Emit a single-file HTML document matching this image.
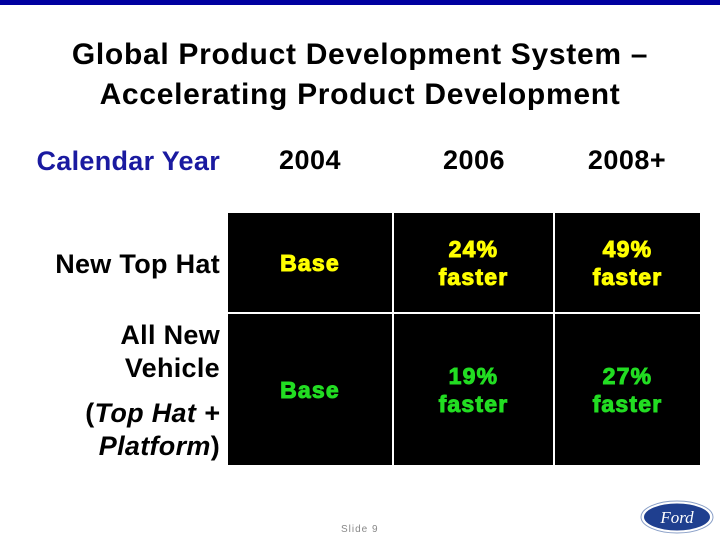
<!DOCTYPE html>
<html><head><meta charset="utf-8"><style>
body{margin:0;width:720px;height:540px;background:#fff;position:relative;overflow:hidden;font-family:"Liberation Sans",sans-serif}
.a{position:absolute}
.t{left:0;width:720px;text-align:center;font-weight:bold;font-size:30px;color:#000;line-height:40px;letter-spacing:0.7px}
.lbl{font-size:27px;font-weight:bold;color:#000;text-align:right;right:500px;line-height:33px;letter-spacing:0.3px}
.yr{font-size:27px;font-weight:bold;color:#000;width:160px;text-align:center;top:145px;letter-spacing:0.5px}
.cell{background:#000;display:flex;align-items:center;justify-content:center;text-align:center;font-weight:bold;font-size:23px;line-height:28px;letter-spacing:1.2px;-webkit-text-stroke:1px currentColor}
.y{color:#ffff00}.g{color:#22dd22}
</style></head><body>
<div class="a" style="left:0;top:0;width:720px;height:5px;background:#0000a0"></div>
<div class="a t" style="top:35px">Global Product Development System –</div>
<div class="a t" style="top:75px">Accelerating Product Development</div>
<div class="a lbl" style="top:145px;color:#1a1aa0">Calendar Year</div>
<div class="a yr" style="left:230px">2004</div>
<div class="a yr" style="left:394px">2006</div>
<div class="a yr" style="left:547px">2008+</div>
<div class="a lbl" style="top:248px">New Top Hat</div>
<div class="a lbl" style="top:319px">All New<br>Vehicle</div>
<div class="a lbl" style="top:397px">(<i>Top Hat +<br>Platform</i>)</div>
<div class="a cell y" style="left:228px;top:213px;width:164px;height:99px">Base</div>
<div class="a cell y" style="left:394px;top:213px;width:159px;height:99px">24%<br>faster</div>
<div class="a cell y" style="left:555px;top:213px;width:145px;height:99px">49%<br>faster</div>
<div class="a cell g" style="left:228px;top:314px;width:164px;height:151px">Base</div>
<div class="a cell g" style="left:394px;top:314px;width:159px;height:151px">19%<br>faster</div>
<div class="a cell g" style="left:555px;top:314px;width:145px;height:151px">27%<br>faster</div>
<div class="a" style="left:341px;top:524px;font-size:10px;color:#888;letter-spacing:1px">Slide 9</div>
<svg class="a" style="left:640px;top:500px" width="74" height="34">
<ellipse cx="37" cy="17" rx="36" ry="16" fill="#fff" stroke="#8aa0c8" stroke-width="1"/>
<ellipse cx="37" cy="17" rx="33" ry="13.5" fill="#1f3f8f"/>
<text x="37" y="23" text-anchor="middle" font-family="Liberation Serif,serif" font-style="italic" font-size="17" fill="#fff">Ford</text>
</svg>
</body></html>
